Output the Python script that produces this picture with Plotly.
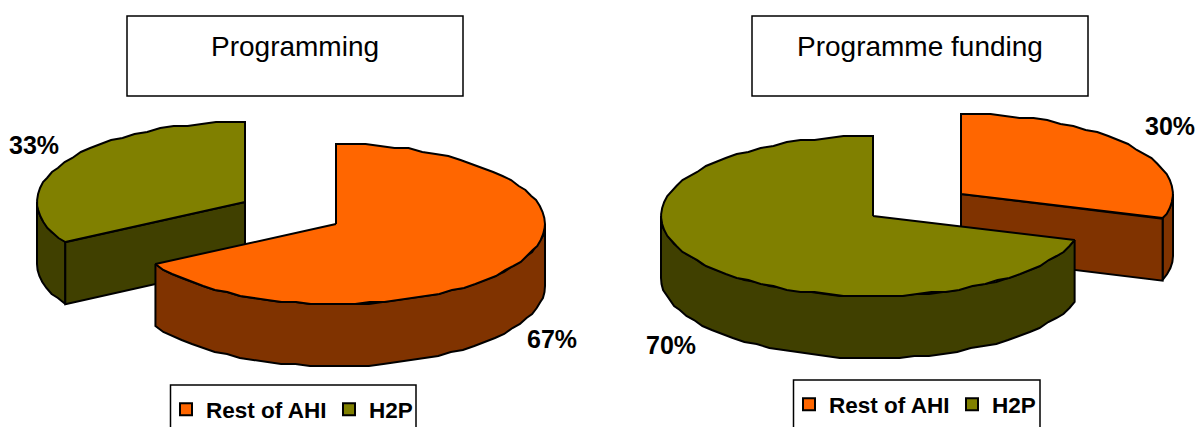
import numpy as np
import plotly.graph_objects as go

W, H = 1198, 427
categories = ["Rest of AHI", "H2P"]
programming_shares = [66.6, 33.4]
funding_shares = [30, 70]
panel_titles = ["Programming", "Programme funding"]

ORANGE, ORANGE_DARK = "#FF6600", "#803300"
OLIVE, OLIVE_DARK = "#808000", "#404000"
RY, DEPTH = 80, 62
STEP = 4.0
GRID = 2.0

fig = go.Figure()


def arc(cx, cy, rx, a0, a1):
    n = max(2, int(abs(a1 - a0) / STEP) + 1)
    t = np.radians(np.linspace(a0, a1, n))
    # the original's rim is a coarse, stepped outline
    return cx + rx * np.sin(t), cy + np.round(-RY * np.cos(t) / GRID) * GRID


def poly(x, y, color):
    fig.add_trace(go.Scatter(
        x=np.append(x, x[0]), y=np.append(y, y[0]), mode="lines", fill="toself",
        fillcolor=color, line=dict(color="black", width=2),
        showlegend=False, hoverinfo="skip"))


def draw_slice(cx, cy, rx, a0, a1, top, side):
    # outer wall: only the part of the rim facing the viewer
    lo, hi = max(a0, 90), min(a1, 270)
    if lo < hi:
        ax, ay = arc(cx, cy, rx, lo, hi)
        poly(np.r_[ax, ax[::-1]], np.r_[ay, ay[::-1] + DEPTH], side)
    # cut wall: drawn only when the radial cut faces the viewer
    for ang, facing in ((a0, a0 > 180), (a1, a1 < 180)):
        if facing:
            t = np.radians(ang)
            ex, ey = cx + rx * np.sin(t), cy - RY * np.cos(t)
            poly(np.array([cx, ex, ex, cx]), np.array([cy, ey, ey + DEPTH, cy + DEPTH]), side)
    ax, ay = arc(cx, cy, rx, a0, a1)
    poly(np.r_[cx, ax], np.r_[cy, ay], top)


# Left panel: "Rest of AHI" clockwise from 12 o'clock, H2P pulled out to the upper left
a = programming_shares[0] * 3.6
draw_slice(245, 202, 208, a, 360, OLIVE, OLIVE_DARK)
draw_slice(336, 224, 209, 0, a, ORANGE, ORANGE_DARK)

# Right panel: the pulled-out orange slice sits behind the olive one
a = funding_shares[0] * 3.6
draw_slice(961, 194, 212, 0, a, ORANGE, ORANGE_DARK)
draw_slice(873, 216, 212, a, 360, OLIVE, OLIVE_DARK)

# Legends (one per panel)
for leg in ("legend", "legend2"):
    for name, col in zip(categories, (ORANGE, OLIVE)):
        fig.add_trace(go.Scatter(
            x=[None], y=[None], mode="markers", name=f"<b>{name}</b>", legend=leg,
            marker=dict(symbol="square", size=15, color=col, line=dict(color="black", width=1.5)),
            hoverinfo="skip"))

shapes = []
for x0, y0, x1, y1 in ((127, 16, 463, 96), (752, 16, 1088, 96),
                       (170.5, 385, 416, 436), (793.5, 380, 1040, 436)):
    shapes.append(dict(type="rect", x0=x0, y0=y0, x1=x1, y1=y1, xref="x", yref="y",
                       line=dict(color="black", width=1.5), fillcolor="rgba(0,0,0,0)"))

notes = []
for text, x, y in ((panel_titles[0], 295, 46), (panel_titles[1], 920, 46)):
    notes.append(dict(text=text, x=x, y=y, xref="x", yref="y", showarrow=False,
                      font=dict(size=28, color="black", family="Liberation Sans")))
pct_pos = ((552, 339), (34, 145), (1170, 126), (671, 345))
pct_vals = programming_shares + funding_shares
for v, (x, y) in zip(pct_vals, pct_pos):
    notes.append(dict(text=f"<b>{v:.0f}%</b>", x=x, y=y, xref="x", yref="y", showarrow=False,
                      font=dict(size=25, color="black", family="Liberation Sans")))

legend_style = dict(orientation="h", xanchor="left", yanchor="top", bgcolor="rgba(0,0,0,0)",
                    borderwidth=0, font=dict(size=22.5, color="black", family="Liberation Sans"),
                    itemsizing="constant", tracegroupgap=0, traceorder="normal",
                    entrywidth=118, entrywidthmode="pixels")
fig.update_layout(
    width=W, height=H, margin=dict(l=0, r=0, t=0, b=0, autoexpand=False),
    paper_bgcolor="white", plot_bgcolor="white",
    xaxis=dict(range=[0, W], visible=False, fixedrange=True),
    yaxis=dict(range=[H, 0], visible=False, fixedrange=True),
    shapes=shapes, annotations=notes,
    legend=dict(x=166 / W, y=1 - 388 / H, **legend_style),
    legend2=dict(x=789 / W, y=1 - 383 / H, **legend_style),
)
fig.write_html("out.html", config=dict(displayModeBar=False),
               post_script="document.body.style.margin='0';document.body.style.overflow='hidden';")
